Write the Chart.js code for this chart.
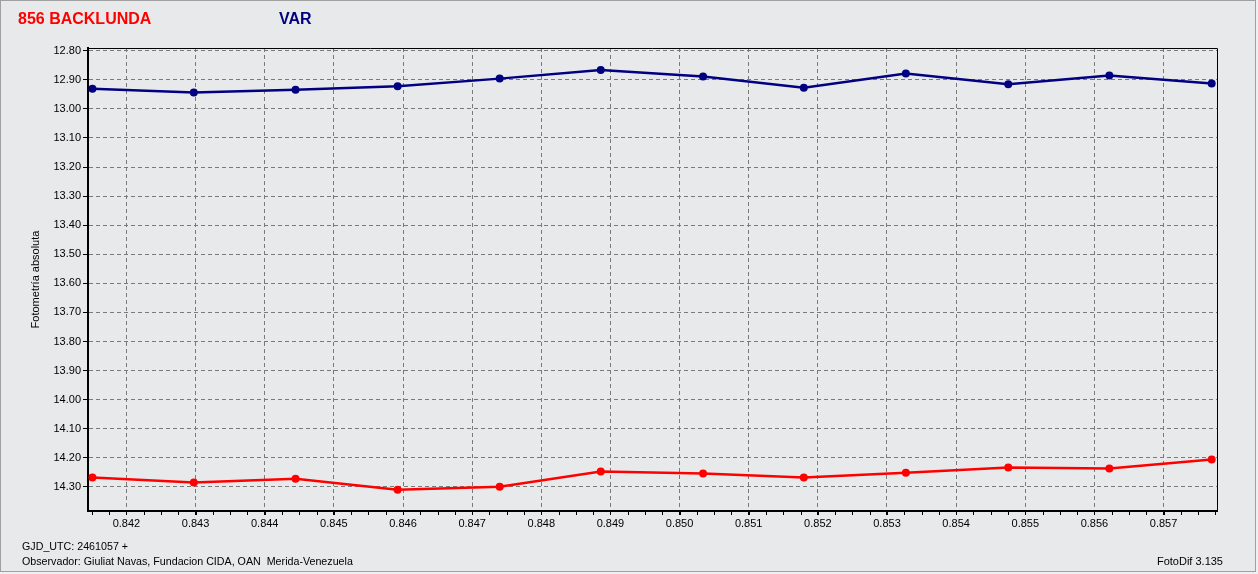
<!DOCTYPE html>
<html>
<head>
<meta charset="utf-8">
<script src="https://cdn.jsdelivr.net/npm/chart.js@4.4.1/dist/chart.umd.min.js"></script>
<style>
html,body{margin:0;padding:0;width:1258px;height:574px;overflow:hidden;background:#f0f0f0;}
#frame{position:absolute;left:0;top:0;width:1254px;height:570px;border:1px solid #a0a0a0;background:#e8e9eb;}
#wrap{position:absolute;left:0;top:0;width:1258px;height:574px;}
.t{position:absolute;font-family:"Liberation Sans",Arial,sans-serif;white-space:pre;}
#t1{left:18px;top:11px;font-size:16px;line-height:16px;font-weight:bold;color:#ff0000;}
#t2{left:279px;top:11px;font-size:16px;line-height:16px;font-weight:bold;color:#000080;}
.f{font-size:10.7px;line-height:11px;color:#000;}
#f1{left:22px;top:541px;}
#f2{left:22px;top:556px;}
#f3{right:35px;top:556px;font-size:11px;}
</style>
</head>
<body>
<div id="frame"></div>
<div id="wrap"><canvas id="c" width="1258" height="574"></canvas></div>
<div class="t" id="t1">856 BACKLUNDA</div>
<div class="t" id="t2">VAR</div>
<div class="t f" id="f1">GJD_UTC: 2461057 +</div>
<div class="t f" id="f2">Observador: Giuliat Navas, Fundacion CIDA, OAN  Merida-Venezuela</div>
<div class="t f" id="f3">FotoDif 3.135</div>
<script>
// Data
const jdFraction = [0.841508, 0.842974, 0.844446, 0.845922, 0.847398, 0.848860, 0.850340, 0.851797, 0.853273, 0.854754, 0.856216, 0.857696];
const varMag     = [12.931, 12.944, 12.934, 12.922, 12.896, 12.866, 12.889, 12.927, 12.878, 12.915, 12.885, 12.913];
const backlundaMag = [14.268, 14.285, 14.272, 14.310, 14.299, 14.247, 14.254, 14.268, 14.251, 14.233, 14.237, 14.206];
const xTicks = [0.842, 0.843, 0.844, 0.845, 0.846, 0.847, 0.848, 0.849, 0.850, 0.851, 0.852, 0.853, 0.854, 0.855, 0.856, 0.857];
const yTicks = [12.8, 12.9, 13.0, 13.1, 13.2, 13.3, 13.4, 13.5, 13.6, 13.7, 13.8, 13.9, 14.0, 14.1, 14.2, 14.3];
const xMin = 0.841444, xMax = 0.857773, xMinorStep = 0.00025;
const yMin = 12.7907, yMax = 14.3828;

const toPts = (ys) => jdFraction.map((x, i) => ({x: x, y: ys[i]}));

const FONT = {family: '"Liberation Sans", Arial, sans-serif', size: 11};

const framePlugin = {
  id: 'frameMinor',
  afterDraw(chart) {
    const ctx = chart.ctx, a = chart.chartArea, xs = chart.scales.x;
    ctx.save();
    ctx.setLineDash([]);
    ctx.strokeStyle = '#000';
    ctx.lineWidth = 1;
    ctx.beginPath();
    ctx.moveTo(a.left, a.top + 0.5); ctx.lineTo(a.right + 0.5, a.top + 0.5);
    ctx.lineTo(a.right + 0.5, a.bottom);
    ctx.stroke();
    ctx.beginPath();
    const start = Math.ceil(xMin / xMinorStep);
    const end = Math.floor(xMax / xMinorStep);
    for (let k = start; k <= end; k++) {
      const px = Math.round(xs.getPixelForValue(k * xMinorStep)) + 0.5;
      ctx.moveTo(px, a.bottom + 1);
      ctx.lineTo(px, a.bottom + 4);
    }
    ctx.stroke();
    ctx.restore();
  }
};

new Chart(document.getElementById('c'), {
  type: 'line',
  data: {
    datasets: [
      {label: 'VAR', data: toPts(varMag), borderColor: '#000080', backgroundColor: '#000080',
       borderWidth: 2.5, pointRadius: 4, pointBorderWidth: 0, tension: 0},
      {label: '856 BACKLUNDA', data: toPts(backlundaMag), borderColor: '#ff0000', backgroundColor: '#ff0000',
       borderWidth: 2.5, pointRadius: 4, pointBorderWidth: 0, tension: 0}
    ]
  },
  options: {
    responsive: false,
    animation: false,
    layout: {padding: {left: 0, top: 48, right: 41, bottom: 0}},
    plugins: {legend: {display: false}, tooltip: {enabled: false}},
    scales: {
      x: {
        type: 'linear', min: xMin, max: xMax,
        afterBuildTicks: (s) => { s.ticks = xTicks.map(v => ({value: v})); },
        afterFit: (s) => { s.height = 63; },
        ticks: {font: FONT, color: '#000', padding: 2, maxRotation: 0, autoSkip: false,
                callback: (v) => Number(v).toFixed(3)},
        grid: {color: '#7a7a7a', lineWidth: 1, tickLength: 4,
               tickColor: '#000', tickBorderDash: [], tickWidth: 1},
        border: {display: true, color: '#000', width: 2, dash: [4, 3]}
      },
      y: {
        type: 'linear', reverse: true, min: yMin, max: yMax,
        afterBuildTicks: (s) => { s.ticks = yTicks.map(v => ({value: v})); },
        afterFit: (s) => { s.width = 88; },
        ticks: {font: FONT, color: '#000', padding: 2, autoSkip: false,
                callback: (v) => Number(v).toFixed(2)},
        grid: {color: '#7a7a7a', lineWidth: 1, tickLength: 5,
               tickColor: '#000', tickBorderDash: [], tickWidth: 1},
        border: {display: true, color: '#000', width: 2, dash: [4, 3]},
        title: {display: true, text: 'Fotometría absoluta', font: FONT, color: '#000', padding: {top: 29, bottom: 0}}
      }
    }
  },
  plugins: [framePlugin]
});
</script>
</body>
</html>
